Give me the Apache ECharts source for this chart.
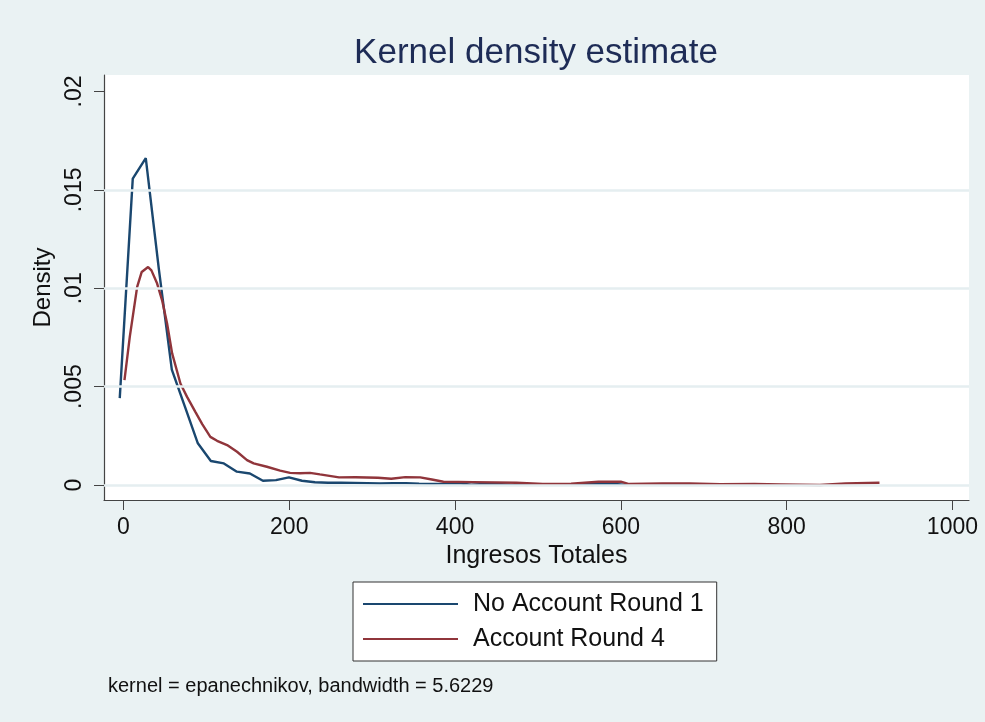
<!DOCTYPE html>
<html>
<head>
<meta charset="utf-8">
<title>Kernel density estimate</title>
<script src="https://cdn.jsdelivr.net/npm/echarts@6/dist/echarts.min.js"></script>
<style>
  html, body { margin: 0; padding: 0; background: #eaf2f3; }
  #main { width: 985px; height: 722px; }
</style>
</head>
<body>
<div id="main"></div>
<script>
// Ingresos Totales grid points + density
var blueX = [-4.5, 11.2, 26.9, 42.6, 58.3, 74.0, 89.7, 105.4, 121.1, 136.8, 152.5, 168.2, 183.9, 199.6, 215.3, 231,
    246.7, 262.4, 278.1, 293.8, 309.5, 325.2, 340.9, 356.6, 372.3, 388, 403.7, 419.4, 435.1, 450.8, 466.5, 482.2,
    497.9, 513.6, 529.3, 545, 560.7, 576.4, 592.1, 607.8, 623.5, 639.2, 654.9, 670.6, 686.3, 702, 717.7, 733.4,
    749.1, 764.8, 780.5];
var blueY = [0.00442, 0.01557, 0.01661, 0.0110, 0.00587, 0.0040, 0.00212, 0.00122, 0.0011, 0.00068, 0.00059, 0.00022,
    0.00025, 0.00039, 0.00022, 0.00014, 0.00012, 0.00012, 0.00011, 0.0001, 0.00008, 0.0001, 0.0001, 0.00007,
    0.00006, 0.00007, 0.00009, 0.00002, 0.00005, 0.00006, 0.00002, 0.00001, 0.00002, 0.00003, 0.00001, 0.00003,
    0.00006, 0.00008, 0.00005, 0.00001, 0.00001, 0.00002, 0.00002, 0.00001, 0.00002, 0.00003, 0.00003, 0.00002,
    0.00002, 0.00001, 0.00001];

var redX = [1.2, 7.6, 16.5, 22, 29.7, 33.7, 40.6, 46.6, 52.6, 58.7, 68.7, 76.7, 86.7, 95, 104.8, 112.9, 125, 137,
    149, 157, 173, 189, 201, 213, 225, 237, 260, 280, 307, 323, 340, 358, 372, 386, 422, 474, 506, 540, 573, 600,
    610, 650, 683, 720, 761, 793, 840, 871, 912];
var redY = [0.00533, 0.00753, 0.01007, 0.01083, 0.01108, 0.01091, 0.01024, 0.00939, 0.00821, 0.00669, 0.00516,
    0.00448, 0.00372, 0.0031, 0.00245, 0.00225, 0.00203, 0.00169, 0.00127, 0.0011, 0.00093, 0.00073, 0.00062,
    0.0006, 0.00062, 0.00054, 0.00039, 0.0004, 0.00037, 0.00032, 0.0004, 0.00039, 0.00028, 0.00017, 0.00015,
    0.00012, 0.00005, 0.00007, 0.00017, 0.00017, 0.00005, 0.00008, 0.00008, 0.00004, 0.00005, 0.00003, 0.0,
    0.00008, 0.00012];

var xTicks = [0, 200, 400, 600, 800, 1000];
var yTicks = [0, 0.005, 0.01, 0.015, 0.02];
var gridLines = [0, 0.005, 0.01, 0.015];
var seriesNames = ['No Account Round 1', 'Account Round 4'];

var xMin = -23.5, xMax = 1020;
var yMin = -0.00076, yMax = 0.02084;

function pairs(xs, ys) {
    var out = [];
    for (var i = 0; i < xs.length; i++) out.push([xs[i], ys[i]]);
    return out;
}

var chart = echarts.init(document.getElementById('main'));
var fontFam = '"Liberation Sans", Arial, Helvetica, sans-serif';

var option = {
    backgroundColor: '#eaf2f3',
    animation: false,
    grid: {
        left: 104, right: 16, top: 75, bottom: 222,
        show: true, backgroundColor: '#ffffff', borderWidth: 0
    },
    legend: {
        data: seriesNames,
        orient: 'vertical',
        left: 353,
        top: 582,
        icon: 'rect',
        itemWidth: 95,
        itemHeight: 2,
        itemGap: 7,
        backgroundColor: '#ffffff',
        borderColor: '#333333',
        borderWidth: 1,
        borderRadius: 0,
        padding: [8, 13, 8, 10],
        textStyle: { fontFamily: fontFam, fontSize: 25, color: '#111', lineHeight: 28, padding: [0, 0, 0, 10] }
    },
    xAxis: {
        type: 'value',
        min: xMin,
        max: xMax,
        name: 'Ingresos Totales',
        nameLocation: 'middle',
        nameGap: 38,
        nameTextStyle: { fontFamily: fontFam, fontSize: 25, color: '#111' },
        axisLine: { onZero: false, lineStyle: { color: '#444', width: 1.2 } },
        axisTick: { customValues: xTicks, length: 10, lineStyle: { color: '#444' } },
        axisLabel: {
            customValues: xTicks, margin: 16, fontFamily: fontFam, fontSize: 23, color: '#111',
            formatter: function (v) { return String(v); }
        },
        splitLine: { show: false }
    },
    yAxis: {
        type: 'value',
        min: yMin,
        max: yMax,
        name: 'Density',
        nameLocation: 'middle',
        nameRotate: 90,
        nameGap: 41,
        nameTextStyle: { fontFamily: fontFam, fontSize: 24, color: '#111' },
        axisLine: { show: true, onZero: false, lineStyle: { color: '#444', width: 1.2 } },
        axisTick: { show: true, customValues: yTicks, length: 10, lineStyle: { color: '#444' } },
        axisLabel: {
            customValues: yTicks,
            rotate: 90,
            margin: 18,
            fontFamily: fontFam, fontSize: 23, color: '#111',
            formatter: function (v) { return v === 0 ? '0' : String(v).replace(/^0/, ''); }
        },
        splitLine: { show: false }
    },
    graphic: [{
        type: 'text',
        x: 536,
        y: 36,
        style: {
            text: 'Kernel density estimate', font: '35px ' + fontFam, fill: '#1e2c56',
            textAlign: 'center', textVerticalAlign: 'top'
        }
    }, {
        type: 'text',
        left: 108,
        top: 676,
        style: { text: 'kernel = epanechnikov, bandwidth = 5.6229', font: '20px ' + fontFam, fill: '#111' }
    }],
    series: [
        {
            // only carries the light horizontal gridlines
            name: 'grid',
            type: 'line',
            z: 1,
            data: [[0, 0]],
            showSymbol: false,
            lineStyle: { opacity: 0 },
            silent: true,
            markLine: {
                silent: true,
                symbol: 'none',
                label: { show: false },
                lineStyle: { color: '#e5eef0', width: 2.5, type: 'solid' },
                data: gridLines.map(function (g) { return [{ coord: [xMin, g] }, { coord: [xMax, g] }]; })
            }
        },
        {
            name: seriesNames[0],
            type: 'line',
            z: 3,
            data: pairs(blueX, blueY),
            showSymbol: false,
            color: '#1a476f',
            lineStyle: { width: 2.4, color: '#1a476f' }
        },
        {
            name: seriesNames[1],
            type: 'line',
            z: 4,
            data: pairs(redX, redY),
            showSymbol: false,
            color: '#90353b',
            lineStyle: { width: 2.4, color: '#90353b' }
        }
    ]
};

chart.setOption(option);
</script>
</body>
</html>
